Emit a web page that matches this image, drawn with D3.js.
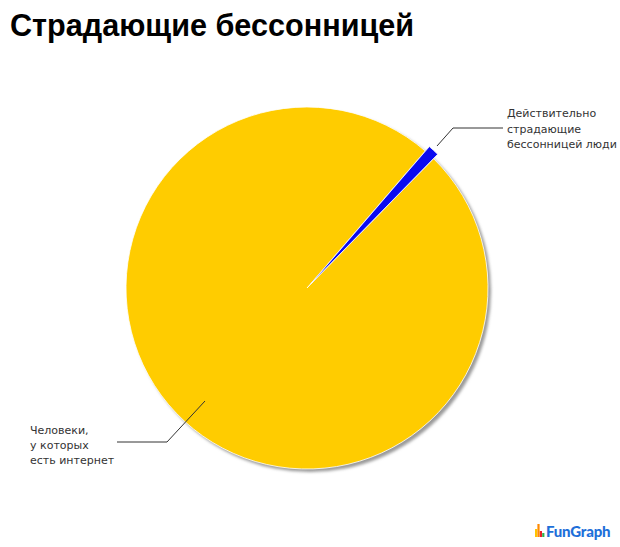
<!DOCTYPE html>
<html><head><meta charset="utf-8">
<script src="https://cdn.jsdelivr.net/npm/d3@7"></script>
<style>
html,body{margin:0;padding:0;background:#fff;}
svg{display:block;}
</style></head>
<body>
<script>
const title = "Страдающие бессонницей";
const categories = ["Действительно страдающие бессонницей люди", "Человеки, у которых есть интернет"];
const values = [1.0, 99.0];
const colors = ["#0A0AF0", "#FFCC00"];
const labelLines = [["Действительно", "страдающие", "бессонницей люди"], ["Человеки,", "у которых", "есть интернет"]];

const W = 620, H = 547;
const cx = 307, cy = 288, R = 181;
const svg = d3.select("body").append("svg").attr("width", W).attr("height", H);

const defs = svg.append("defs");
const f = defs.append("filter").attr("id", "sh").attr("x", "-10%").attr("y", "-10%").attr("width", "120%").attr("height", "120%");
f.append("feGaussianBlur").attr("stdDeviation", 1.5);

svg.append("text").attr("x", 10).attr("y", 36)
  .attr("font-family", "Liberation Sans, Arial, sans-serif").attr("font-weight", "bold")
  .attr("font-size", 30.6).attr("fill", "#000").text(title);

const startDeg = 40.8;
const pie = d3.pie().sort(null).value(d => d)
  .startAngle(startDeg * Math.PI / 180).endAngle((startDeg + 360) * Math.PI / 180);
const arcs = pie(values);
const arc = d3.arc().innerRadius(0).outerRadius(R);

const g = svg.append("g").attr("transform", `translate(${cx},${cy})`);
g.append("circle").attr("cx", 3).attr("cy", 3).attr("r", R).attr("fill", "#9a9a9a").attr("filter", "url(#sh)");

const order = [1, 0];
order.forEach(i => {
  const a = arcs[i];
  const mid = (a.startAngle + a.endAngle) / 2;
  const off = i === 0 ? 6 : 0;
  g.append("path").attr("d", arc(a))
    .attr("transform", `translate(${off * Math.sin(mid)},${-off * Math.cos(mid)})`)
    .attr("fill", colors[i]).attr("stroke", "#fff").attr("stroke-width", 0.8).attr("stroke-linejoin", "round");
});

const leaders = [
  { pts: [[437 - cx, 146 - cy], [453 - cx, 128 - cy], [503 - cx, 128 - cy]], tx: 507, ty: [117, 133, 148] },
  { pts: [[205 - cx, 401 - cy], [167 - cx, 442 - cy], [117 - cx, 442 - cy]], tx: 30, ty: [434, 449, 464] }
];
leaders.forEach((L, i) => {
  g.append("path").attr("d", d3.line()(L.pts)).attr("fill", "none").attr("stroke", "#333").attr("stroke-width", 1);
  const t = svg.append("text").attr("font-family", "DejaVu Sans, Verdana, sans-serif").attr("font-size", 11).attr("fill", "#333");
  labelLines[i].forEach((ln, j) => t.append("tspan").attr("x", L.tx).attr("y", L.ty[j]).text(ln));
});

const logoBars = [{h: 8, c: "#FFC400"}, {h: 13, c: "#FF8A00"}, {h: 6, c: "#E8202A"}, {h: 4, c: "#2DB34A"}];
const lg = svg.append("g").attr("transform", "translate(535,537)");
logoBars.forEach((b, i) => lg.append("rect").attr("x", i * 2.4).attr("y", -b.h).attr("width", 2.2).attr("height", b.h).attr("fill", b.c));
lg.append("text").attr("x", 11).attr("y", 0).attr("font-family", "Lato, Arial, sans-serif").attr("font-weight", "900")
  .attr("font-size", 15).attr("fill", "#1E6FD9").attr("letter-spacing", -0.2).text("FunGraph");
</script>
</body></html>
